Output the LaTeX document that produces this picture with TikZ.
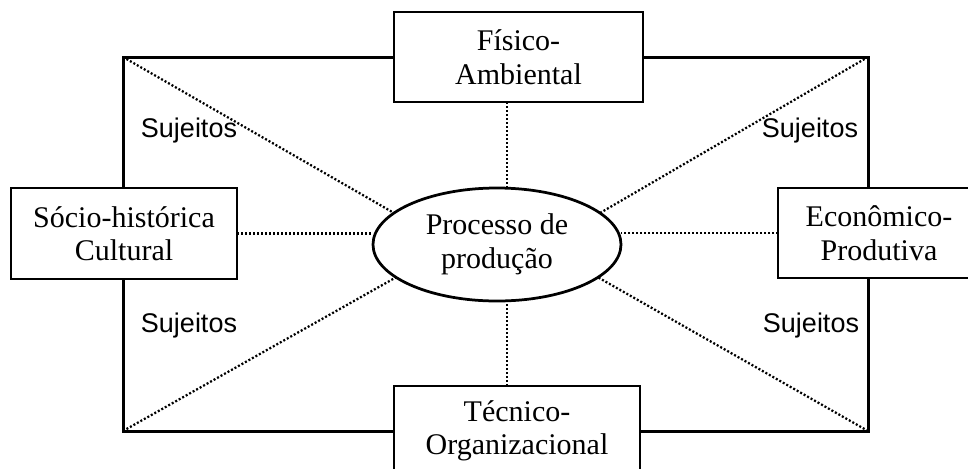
\documentclass[tikz,border=0pt]{standalone}
\usepackage{fontspec}
\setmainfont{Liberation Serif}
\newfontfamily\sujfont{Liberation Sans}
\usetikzlibrary{shapes.geometric,backgrounds}
\tikzset{
  dimbox/.style={draw,line width=1.1pt,align=center,inner sep=0pt,outer sep=0pt,
    font=\fontsize{12}{13.4}\selectfont},
  frame/.style={line width=1.2pt},
  link/.style={dash pattern=on 0.8pt off 0.8pt,line width=0.9pt},
  sujlabel/.style={font=\sujfont\fontsize{10.8}{12}\selectfont}
}
\begin{document}
\begin{tikzpicture}[x=0.4pt,y=-0.4pt]
  \useasboundingbox (0,0) rectangle (968,468);
  
  %corners of the frame
  \coordinate (tl) at (123,57);
  \coordinate (tr) at (868,57);
  \coordinate (bl) at (123,431);
  \coordinate (br) at (868,431);
  \coordinate (mx) at (507,0);
  
  %dimensions
  \node[dimbox,minimum width=99.6pt,minimum height=36pt] (fis) at (518.5,57) {Físico-\\Ambiental};
  \node[dimbox,minimum width=90.4pt,minimum height=36.4pt] (soc) at (124,233.5) {Sócio-histórica\\Cultural};
  \node[dimbox,minimum width=80.8pt,minimum height=36pt] (eco) at (879,233) {Econômico-\\Produtiva};
  \node[dimbox,minimum width=98.4pt,minimum height=36pt] (tec) at (517,431) {Técnico-\\Organizacional};
  
  %centre
  \node[dimbox,ellipse,fill=white,minimum width=99.2pt,minimum height=45.2pt] (proc) at (497,244.5) {Processo de\\produção};
  
  %outer frame
  \draw[frame] (soc.north -| tl) -- (tl) -- (fis.west);
  \draw[frame] (fis.east) -- (tr) -- (eco.north -| tr);
  \draw[frame] (soc.south -| bl) -- (bl) -- (tec.west);
  \draw[frame] (tec.east) -- (br) -- (eco.south -| br);
  
  %dotted links
  \begin{scope}[on background layer]
    \draw[link] (fis.south -| mx) -- (proc.north -| mx);
    \draw[link] (tec.north -| mx) -- (proc.south -| mx);
    \draw[link] (soc.east) -- (proc.west |- soc.east);
    \draw[link] (eco.west) -- (proc.east |- eco.west);
  \end{scope}
  \draw[link] (tl) -- (proc.163);
  \draw[link] (bl) -- (proc.198);
  \draw[link] (tr) -- (proc.17);
  \draw[link] (br) -- (proc.342);
  
  \node[sujlabel] (s1) at (189,131) {Sujeitos};
  \node[sujlabel] (s2) at (810,131) {Sujeitos};
  \node[sujlabel] (s3) at (189,326) {Sujeitos};
  \node[sujlabel] (s4) at (811,326) {Sujeitos};
  
\end{tikzpicture}
\end{document}
